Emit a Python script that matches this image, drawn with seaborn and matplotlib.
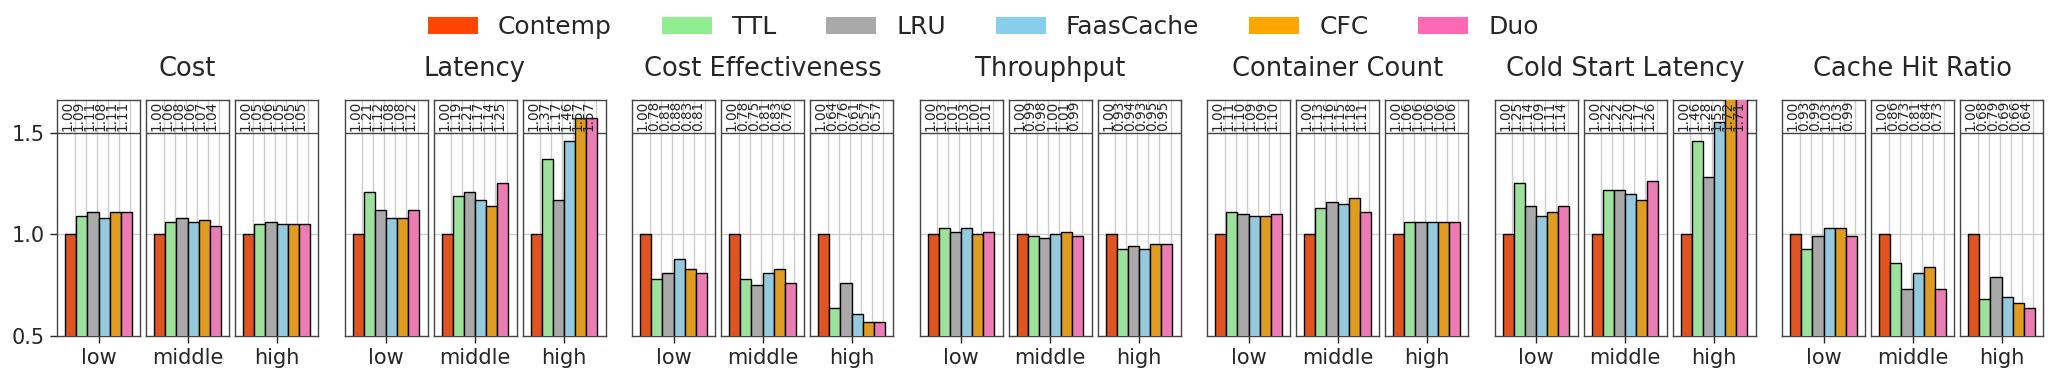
import numpy as np
import pandas as pd
import matplotlib
matplotlib.use("Agg")
import matplotlib.pyplot as plt
import matplotlib.patches as mpatches
import seaborn as sns

sns.set_style("white")
plt.rcParams['font.family'] = ['DejaVu Sans']

methods = ["Contemp", "TTL", "LRU", "FaasCache", "CFC", "Duo"]
colors = ["#FF4500", "#90EE90", "#A9A9A9", "#87CEEB", "#FFA500", "#FF69B4"]
levels = ["low", "middle", "high"]
metrics = ["Cost", "Latency", "Cost Effectiveness", "Throuphput",
           "Container Count", "Cold Start Latency", "Cache Hit Ratio"]

cost = [[1.00, 1.09, 1.11, 1.08, 1.11, 1.11],
        [1.00, 1.06, 1.08, 1.06, 1.07, 1.04],
        [1.00, 1.05, 1.06, 1.05, 1.05, 1.05]]
latency = [[1.00, 1.21, 1.12, 1.08, 1.08, 1.12],
           [1.00, 1.19, 1.21, 1.17, 1.14, 1.25],
           [1.00, 1.37, 1.17, 1.46, 1.57, 1.57]]
cost_eff = [[1.00, 0.78, 0.81, 0.88, 0.83, 0.81],
            [1.00, 0.78, 0.75, 0.81, 0.83, 0.76],
            [1.00, 0.64, 0.76, 0.61, 0.57, 0.57]]
throughput = [[1.00, 1.03, 1.01, 1.03, 1.00, 1.01],
              [1.00, 0.99, 0.98, 1.00, 1.01, 0.99],
              [1.00, 0.93, 0.94, 0.93, 0.95, 0.95]]
container = [[1.00, 1.11, 1.10, 1.09, 1.09, 1.10],
             [1.00, 1.13, 1.16, 1.15, 1.18, 1.11],
             [1.00, 1.06, 1.06, 1.06, 1.06, 1.06]]
cold_start = [[1.00, 1.25, 1.14, 1.09, 1.11, 1.14],
              [1.00, 1.22, 1.22, 1.20, 1.17, 1.26],
              [1.00, 1.46, 1.28, 1.55, 1.72, 1.71]]
cache_hit = [[1.00, 0.93, 0.99, 1.03, 1.03, 0.99],
             [1.00, 0.86, 0.73, 0.81, 0.84, 0.73],
             [1.00, 0.68, 0.79, 0.69, 0.66, 0.64]]

all_data = [cost, latency, cost_eff, throughput, container, cold_start, cache_hit]

rows = []
for m, data in zip(metrics, all_data):
    for lv, vals in zip(levels, data):
        for meth, v in zip(methods, vals):
            rows.append({"metric": m, "level": lv, "method": meth, "value": v})
df = pd.DataFrame(rows)

W, H = 2053, 387
fig = plt.figure(figsize=(W / 100, H / 100), dpi=100)

ax_w = 83
ax_h = 236
bottom_px = 51
group_stride = 287.5
panel_stride = 89
left0 = 57

YMIN, YMAX = 0.5, 1.66

for gi, m in enumerate(metrics):
    for pi, lv in enumerate(levels):
        left = left0 + gi * group_stride + pi * panel_stride
        ax = fig.add_axes([left / W, bottom_px / H, ax_w / W, ax_h / H])
        sub = df[(df.metric == m) & (df.level == lv)]
        sns.barplot(data=sub, x="level", y="value", hue="method",
                    hue_order=methods, palette=colors, ax=ax,
                    edgecolor="black", linewidth=1, legend=False,
                    width=0.8, zorder=3)
        ax.set_ylim(YMIN, YMAX)
        ax.set_xlim(-0.5, 0.5)
        ax.set_xlabel("")
        ax.set_ylabel("")
        ax.axhline(1.0, color="#cccccc", lw=1, zorder=1)
        ax.axhline(1.5, color="#444444", lw=1, zorder=2)
        bars = [p for p in ax.patches]
        for b, v in zip(bars, sub["value"].values):
            lx = b.get_x() + b.get_width() * 0.85
            ax.axvline(lx, color="#cccccc", lw=1, zorder=1)
            ax.text(lx, 1.51, f"{v:.2f}", rotation=90, ha="right",
                    va="bottom", fontsize=9.8, zorder=5)
        ax.tick_params(axis="x", labelsize=15, length=5, width=1,
                       bottom=True, direction="out")
        if gi == 0 and pi == 0:
            ax.set_yticks([0.5, 1.0, 1.5])
            ax.set_yticklabels(["0.5", "1.0", "1.5"])
            ax.tick_params(axis="y", labelsize=15, length=5, width=1,
                           left=True, direction="out")
        else:
            ax.set_yticks([])
        for s in ax.spines.values():
            s.set_color("#444444")
            s.set_linewidth(1)
        if pi == 1:
            ax.set_title(m, fontsize=18.5, pad=17)

handles = [mpatches.Patch(facecolor=c, edgecolor="none", label=l)
           for c, l in zip(colors, methods)]
fig.legend(handles=handles, loc="center", bbox_to_anchor=(0.479, 0.930),
           ncol=6, frameon=False, fontsize=18)

fig.savefig("out.png", dpi=100)
